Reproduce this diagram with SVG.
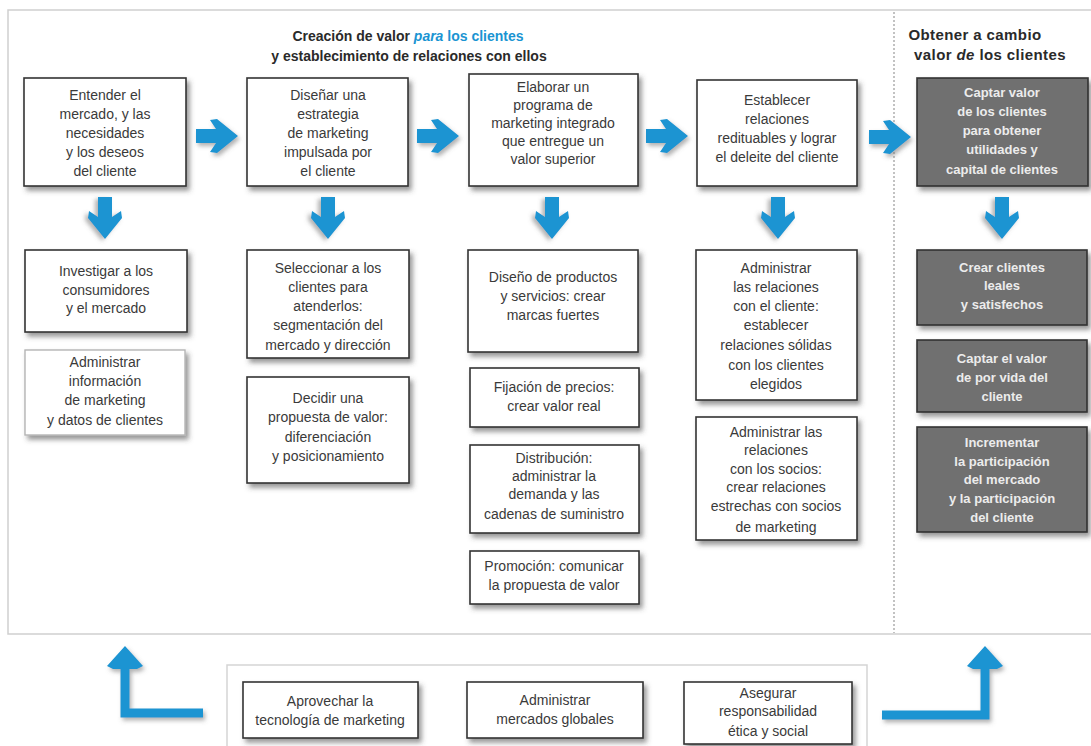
<svg xmlns="http://www.w3.org/2000/svg" width="1091" height="746" viewBox="0 0 1091 746">
<defs>
<filter id="sh" x="-10%" y="-10%" width="130%" height="140%">
<feDropShadow dx="3" dy="4" stdDeviation="2.5" flood-color="#444" flood-opacity="0.55"/>
</filter>
<filter id="ash" x="-30%" y="-30%" width="170%" height="170%">
<feDropShadow dx="2" dy="3" stdDeviation="2" flood-color="#666" flood-opacity="0.5"/>
</filter>
<path id="arr" d="M-21,-7 L-1,-7 L-7,-16 L0,-17 L21,0 L0,17 L-7,16 L-1,7 L-21,7 Z"/>
</defs>
<style>
.b{fill:#fff;stroke:#333;stroke-width:1.6;filter:url(#sh)}
.bl{fill:#fff;stroke:#b5b5b5;stroke-width:1.4;filter:url(#sh)}
.d{fill:#6f6f6f;stroke:#333;stroke-width:1.6;filter:url(#sh)}
.t{font-family:"Liberation Sans",Arial,sans-serif;font-size:14px;fill:#3a3a3a;text-anchor:middle}
.w{font-family:"Liberation Sans",Arial,sans-serif;font-size:13px;font-weight:bold;fill:#ececec;text-anchor:middle}
.h{font-family:"Liberation Sans",Arial,sans-serif;font-size:14px;font-weight:bold;fill:#2a2a2a;text-anchor:middle}
.hr{font-family:"Liberation Sans",Arial,sans-serif;font-size:15px;font-weight:bold;fill:#2a2a2a;text-anchor:middle;letter-spacing:0.4px}
.blue{fill:#1a94d2}
.a{fill:#1a94d2;filter:url(#ash)}
.frame{fill:none;stroke:#cfcfcf;stroke-width:1.5}
</style>
<rect width="1091" height="746" fill="#fff"/>
<rect class="frame" x="8" y="10" width="1100" height="624"/>
<line x1="894" y1="12" x2="894" y2="633" stroke="#9a9a9a" stroke-width="1.2" stroke-dasharray="2,2"/>
<rect x="227" y="665" width="640" height="100" fill="#fff" stroke="#d5d5d5" stroke-width="1.5"/>

<g id="headers">
<text class="h" x="408" y="41">Creación de valor <tspan class="blue" font-style="italic">para</tspan><tspan class="blue"> los clientes</tspan></text>
<text class="h" x="409" y="61">y establecimiento de relaciones con ellos</text>
<text class="hr" x="975" y="40">Obtener a cambio</text>
<text class="hr" x="990" y="60">valor <tspan font-style="italic">de</tspan> los clientes</text>
</g>

<g id="connectors">
<use href="#arr" class="a" transform="translate(217,136)"/>
<use href="#arr" class="a" transform="translate(438,136)"/>
<use href="#arr" class="a" transform="translate(667,136)"/>
<use href="#arr" class="a" transform="translate(890,137)"/>
<use href="#arr" class="a" transform="translate(105,218) rotate(90)"/>
<use href="#arr" class="a" transform="translate(328,218) rotate(90)"/>
<use href="#arr" class="a" transform="translate(552,218) rotate(90)"/>
<use href="#arr" class="a" transform="translate(778,218) rotate(90)"/>
<use href="#arr" class="a" transform="translate(1002,218) rotate(90)"/>
<g filter="url(#ash)">
<path d="M203,713 L125,713 L125,664" fill="none" stroke="#1a94d2" stroke-width="9"/>
<path class="blue" d="M125,646 L143,666 L137,669 L113,669 L107,666 Z"/>
<path d="M882,715 L985,715 L985,664" fill="none" stroke="#1a94d2" stroke-width="9"/>
<path class="blue" d="M985,646 L1003,666 L997,669 L973,669 L967,666 Z"/>
</g>
</g>

<g id="n1"><rect class="b" x="24" y="78" width="162" height="108"/>
<text class="t" x="105"><tspan x="105" y="100">Entender el</tspan><tspan x="105" y="119">mercado, y las</tspan><tspan x="105" y="138">necesidades</tspan><tspan x="105" y="157">y los deseos</tspan><tspan x="105" y="176">del cliente</tspan></text></g>
<g id="n2"><rect class="b" x="247" y="78" width="161" height="108"/>
<text class="t"><tspan x="328" y="100">Diseñar una</tspan><tspan x="328" y="119">estrategia</tspan><tspan x="328" y="138">de marketing</tspan><tspan x="328" y="157">impulsada por</tspan><tspan x="328" y="176">el cliente</tspan></text></g>
<g id="n3"><rect class="b" x="469" y="74" width="169" height="112"/>
<text class="t"><tspan x="553" y="92">Elaborar un</tspan><tspan x="553" y="110">programa de</tspan><tspan x="553" y="128">marketing integrado</tspan><tspan x="553" y="146">que entregue un</tspan><tspan x="553" y="164">valor superior</tspan></text></g>
<g id="n4"><rect class="b" x="697" y="80" width="160" height="106"/>
<text class="t"><tspan x="777" y="105">Establecer</tspan><tspan x="777" y="124">relaciones</tspan><tspan x="777" y="143">redituables y lograr</tspan><tspan x="777" y="162">el deleite del cliente</tspan></text></g>
<g id="n5"><rect class="d" x="917" y="78" width="171" height="108"/>
<text class="w"><tspan x="1002" y="97">Captar valor</tspan><tspan x="1002" y="116">de los clientes</tspan><tspan x="1002" y="135">para obtener</tspan><tspan x="1002" y="154">utilidades y</tspan><tspan x="1002" y="174">capital de clientes</tspan></text></g>

<g id="n6"><rect class="b" x="25" y="250" width="162" height="82"/>
<text class="t"><tspan x="106" y="276">Investigar a los</tspan><tspan x="106" y="295">consumidores</tspan><tspan x="106" y="313">y el mercado</tspan></text></g>
<g id="n7"><rect class="bl" x="25" y="350" width="160" height="85"/>
<text class="t"><tspan x="105" y="367">Administrar</tspan><tspan x="105" y="386">información</tspan><tspan x="105" y="405">de marketing</tspan><tspan x="105" y="425">y datos de clientes</tspan></text></g>
<g id="n8"><rect class="b" x="247" y="250" width="162" height="108"/>
<text class="t"><tspan x="328" y="273">Seleccionar a los</tspan><tspan x="328" y="292">clientes para</tspan><tspan x="328" y="311">atenderlos:</tspan><tspan x="328" y="330">segmentación del</tspan><tspan x="328" y="350">mercado y dirección</tspan></text></g>
<g id="n9"><rect class="b" x="247" y="377" width="162" height="106"/>
<text class="t"><tspan x="328" y="403">Decidir una</tspan><tspan x="328" y="422">propuesta de valor:</tspan><tspan x="328" y="442">diferenciación</tspan><tspan x="328" y="461">y posicionamiento</tspan></text></g>
<g id="n10"><rect class="b" x="468" y="250" width="170" height="102"/>
<text class="t"><tspan x="553" y="282">Diseño de productos</tspan><tspan x="553" y="301">y servicios: crear</tspan><tspan x="553" y="320">marcas fuertes</tspan></text></g>
<g id="n11"><rect class="b" x="470" y="368" width="169" height="59"/>
<text class="t"><tspan x="554" y="392">Fijación de precios:</tspan><tspan x="554" y="411">crear valor real</tspan></text></g>
<g id="n12"><rect class="b" x="470" y="445" width="169" height="88"/>
<text class="t"><tspan x="554" y="463">Distribución:</tspan><tspan x="554" y="481">administrar la</tspan><tspan x="554" y="499">demanda y las</tspan><tspan x="554" y="519">cadenas de suministro</tspan></text></g>
<g id="n13"><rect class="b" x="470" y="551" width="169" height="53"/>
<text class="t"><tspan x="554" y="571">Promoción: comunicar</tspan><tspan x="554" y="590">la propuesta de valor</tspan></text></g>
<g id="n14"><rect class="b" x="696" y="250" width="161" height="150"/>
<text class="t"><tspan x="776" y="273">Administrar</tspan><tspan x="776" y="292">las relaciones</tspan><tspan x="776" y="311">con el cliente:</tspan><tspan x="776" y="330">establecer</tspan><tspan x="776" y="350">relaciones sólidas</tspan><tspan x="776" y="370">con los clientes</tspan><tspan x="776" y="389">elegidos</tspan></text></g>
<g id="n15"><rect class="b" x="696" y="417" width="161" height="123"/>
<text class="t"><tspan x="776" y="437">Administrar las</tspan><tspan x="776" y="455">relaciones</tspan><tspan x="776" y="474">con los socios:</tspan><tspan x="776" y="492">crear relaciones</tspan><tspan x="776" y="511">estrechas con socios</tspan><tspan x="776" y="532">de marketing</tspan></text></g>
<g id="n16"><rect class="d" x="917" y="250" width="170" height="75"/>
<text class="w"><tspan x="1002" y="272">Crear clientes</tspan><tspan x="1002" y="290">leales</tspan><tspan x="1002" y="309">y satisfechos</tspan></text></g>
<g id="n17"><rect class="d" x="917" y="340" width="170" height="72"/>
<text class="w"><tspan x="1002" y="363">Captar el valor</tspan><tspan x="1002" y="382">de por vida del</tspan><tspan x="1002" y="401">cliente</tspan></text></g>
<g id="n18"><rect class="d" x="917" y="427" width="170" height="105"/>
<text class="w"><tspan x="1002" y="447">Incrementar</tspan><tspan x="1002" y="466">la participación</tspan><tspan x="1002" y="484">del mercado</tspan><tspan x="1002" y="503">y la participación</tspan><tspan x="1002" y="522">del cliente</tspan></text></g>

<g id="n19"><rect class="b" x="243" y="682" width="175" height="56"/>
<text class="t"><tspan x="330" y="706">Aprovechar la</tspan><tspan x="330" y="725">tecnología de marketing</tspan></text></g>
<g id="n20"><rect class="b" x="467" y="682" width="176" height="56"/>
<text class="t"><tspan x="555" y="705">Administrar</tspan><tspan x="555" y="724">mercados globales</tspan></text></g>
<g id="n21"><rect class="b" x="684" y="682" width="168" height="62"/>
<text class="t"><tspan x="768" y="698">Asegurar</tspan><tspan x="768" y="716">responsabilidad</tspan><tspan x="768" y="736">ética y social</tspan></text></g>
</svg>
